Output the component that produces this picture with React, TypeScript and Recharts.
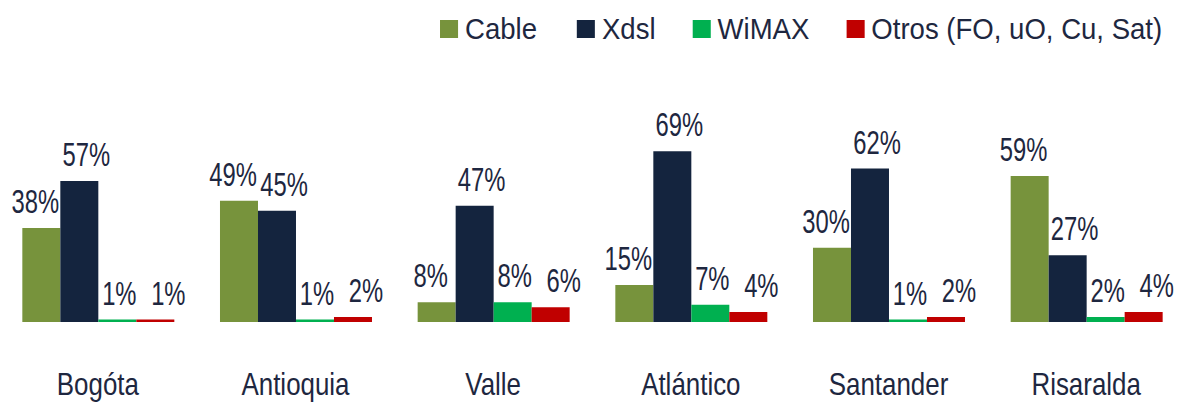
import React from 'react';
import { BarChart, Bar, XAxis, YAxis, LabelList } from 'recharts';

const categories = ['Bogóta', 'Antioquia', 'Valle', 'Atlántico', 'Santander', 'Risaralda'];
const cable = [38, 49, 8, 15, 30, 59];
const xdsl = [57, 45, 47, 69, 62, 27];
const wimax = [1, 1, 8, 7, 1, 2];
const otros = [1, 2, 6, 4, 2, 4];

const seriesNames = ['Cable', 'Xdsl', 'WiMAX', 'Otros (FO, uO, Cu, Sat)'];
const seriesKeys = ['cable', 'xdsl', 'wimax', 'otros'];
const seriesColors = ['#77933C', '#14243E', '#00B050', '#C00000'];
const labelShift = [-6, 7, 2, 13];
const legendGaps = [0, 40, 37, 37];

const data = categories.map((c, i) => ({
  name: c,
  cable: cable[i],
  xdsl: xdsl[i],
  wimax: wimax[i],
  otros: otros[i],
}));

const FONT = "'Liberation Sans', Arial, sans-serif";
const TEXT = '#1E2740';
const LEG_SCALE = 0.95;

const ValueLabel = (props: any) => {
  const vb = props.viewBox || {};
  const x = Number(props.x ?? vb.x ?? 0);
  const y = Number(props.y ?? vb.y ?? 0);
  const w = Number(props.width ?? vb.width ?? 0);
  const cx = x + w / 2 + (props.shift || 0);
  const by = y - 15;
  return (
    <text
      transform={`translate(${cx},${by}) scale(0.7,1)`}
      textAnchor="middle"
      fill={TEXT}
      fontSize={34}
      fontFamily={FONT}
    >
      {`${props.value}%`}
    </text>
  );
};

const CategoryTick = (props: any) => {
  const { x, y, payload } = props;
  return (
    <text
      transform={`translate(${x},${Number(y) + 73}) scale(0.81,1)`}
      textAnchor="middle"
      fill={TEXT}
      fontSize={32}
      fontFamily={FONT}
    >
      {payload.value}
    </text>
  );
};

export default function App() {
  return (
    <div style={{ position: 'absolute', left: 0, top: 0, width: 1181, height: 404, overflow: 'hidden', background: '#fff' }}>
      <div style={{ position: 'absolute', left: -1, top: 0 }}>
        <BarChart
          width={1186}
          height={404}
          data={data}
          margin={{ top: 124, right: 0, left: 0, bottom: 0 }}
          barCategoryGap="11.8%"
          barGap={0}
        >
          <YAxis hide domain={[0, 80]} />
          <XAxis
            dataKey="name"
            axisLine={false}
            tickLine={false}
            tickSize={0}
            tickMargin={0}
            height={82}
            interval={0}
            tick={<CategoryTick />}
          />
          {seriesKeys.map((k, i) => (
            <Bar key={k} dataKey={k} name={seriesNames[i]} fill={seriesColors[i]} isAnimationActive={false}>
              <LabelList dataKey={k} position="top" content={<ValueLabel shift={labelShift[i]} />} />
            </Bar>
          ))}
        </BarChart>
      </div>
      <div
        style={{
          position: 'absolute',
          right: 19,
          top: 11,
          display: 'flex',
          alignItems: 'center',
          fontFamily: FONT,
          fontSize: 29,
          lineHeight: '36px',
          color: TEXT,
          whiteSpace: 'nowrap',
          transform: `scaleX(${LEG_SCALE})`,
          transformOrigin: 'right center',
        }}
      >
        {seriesNames.map((n, i) => (
          <div key={n} style={{ display: 'flex', alignItems: 'center', marginLeft: legendGaps[i] / LEG_SCALE }}>
            <span
              style={{
                display: 'inline-block',
                width: 18 / LEG_SCALE,
                height: 18,
                background: seriesColors[i],
                marginRight: 7 / LEG_SCALE,
              }}
            />
            <span>{n}</span>
          </div>
        ))}
      </div>
    </div>
  );
}
